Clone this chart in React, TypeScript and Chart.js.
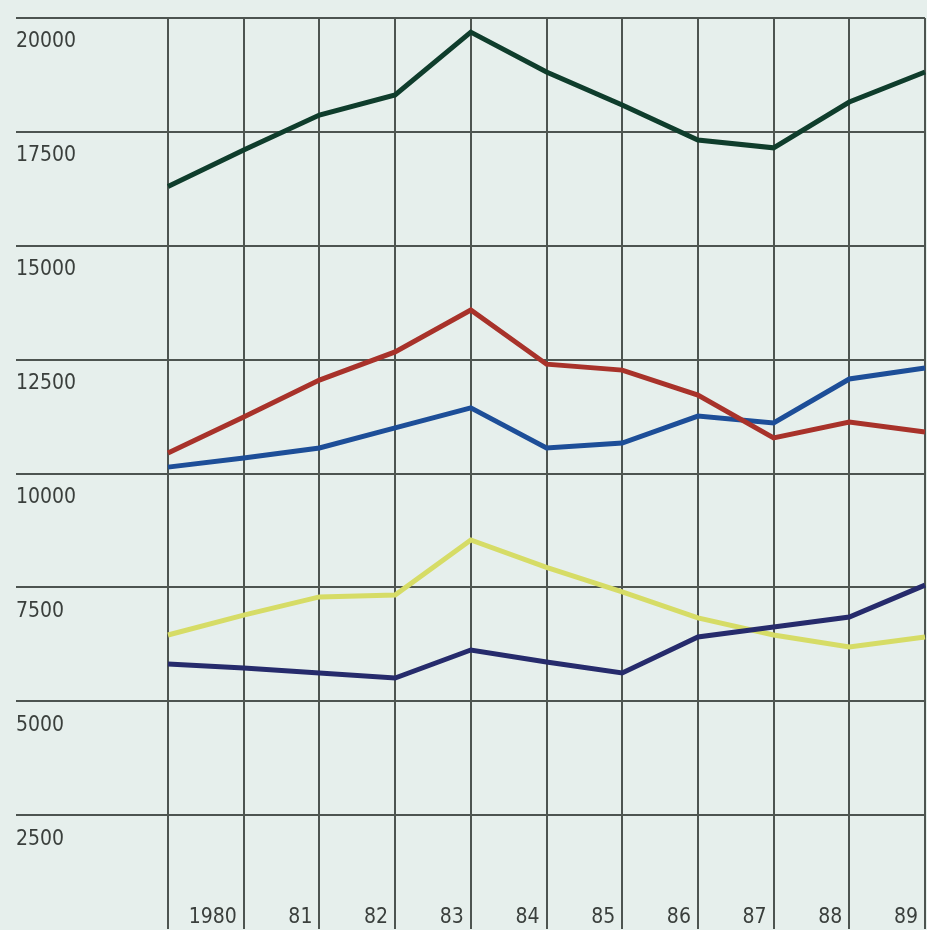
import React, { useEffect, useRef } from "react";
import { Chart, registerables } from "chart.js";

Chart.register(...registerables);

const years = ["", "1980", "81", "82", "83", "84", "85", "86", "87", "88", "89"];
const yTicks = [2500, 5000, 7500, 10000, 12500, 15000, 17500, 20000];

const greenSeries = [16300, 17100, 17870, 18310, 19690, 18815, 18090, 17320, 17150, 18155, 18815];
const redSeries = [10450, 11240, 12050, 12670, 13590, 12400, 12270, 11720, 10780, 11130, 10910];
const blueSeries = [10140, 10340, 10560, 11000, 11440, 10560, 10670, 11260, 11110, 12075, 12315];
const yellowSeries = [6455, 6890, 7290, 7330, 8540, 7940, 7400, 6830, 6455, 6190, 6410];
const navySeries = [5820, 5730, 5620, 5510, 6125, 5860, 5620, 6410, 6630, 6850, 7550];

const FONT = "'Liberation Sans Narrow', 'DejaVu Sans Condensed', 'Roboto Condensed', sans-serif";
const GRID = "#4d5450";

export default function App() {
  const ref = useRef<HTMLCanvasElement | null>(null);

  useEffect(() => {
    if (!ref.current) return;
    const mk = (data: number[], color: string, width: number) => ({
      data,
      borderColor: color,
      backgroundColor: color,
      borderWidth: width,
      pointRadius: 0,
      tension: 0,
      fill: false,
    });
    const chart = new Chart(ref.current, {
      type: "line",
      data: {
        labels: years,
        datasets: [
          mk(greenSeries, "#0f3d2c", 5),
          mk(redSeries, "#a8322a", 5),
          mk(blueSeries, "#1d4e98", 5),
          mk(navySeries, "#262b6c", 5),
          mk(yellowSeries, "#d6dc66", 5),
        ],
      },
      options: {
        animation: false,
        responsive: false,
        maintainAspectRatio: false,
        layout: { padding: { left: 16, top: 18, right: 2, bottom: 1 } },
        plugins: { legend: { display: false }, tooltip: { enabled: false } },
        scales: {
          x: {
            type: "category",
            offset: false,
            border: { display: false },
            grid: { color: GRID, lineWidth: 2, drawTicks: false },
            ticks: {
              mirror: true,
              align: "end",
              labelOffset: -7,
              padding: 1,
              maxRotation: 0,
              autoSkip: false,
              color: "#3a3f3c",
              font: { family: FONT, size: 21, lineHeight: 1 },
            },
            afterFit: (s: any) => {
              s.height = 0;
              s.paddingLeft = 0;
              s.paddingRight = 0;
            },
          },
          y: {
            min: 0,
            max: 20000,
            afterBuildTicks: (s: any) => {
              s.ticks = [0, ...yTicks].map((v) => ({ value: v }));
            },
            border: { display: false },
            grid: {
              color: (c: any) => (c.tick && c.tick.value === 0 ? "rgba(0,0,0,0)" : GRID),
              lineWidth: 2,
              tickLength: 152,
            },
            ticks: {
              crossAlign: "far",
              labelOffset: 24,
              color: "#3a3f3c",
              font: { family: FONT, size: 21, lineHeight: 1 },
              callback: (v: any) => (v === 0 ? "" : String(v)),
            },
            afterFit: (s: any) => {
              s.width = 152;
              s.paddingTop = 0;
              s.paddingBottom = 0;
            },
          },
        },
      },
    });
    return () => chart.destroy();
  }, []);

  return (
    <div style={{ position: "fixed", left: 0, top: 0, width: 927, height: 930, background: "#e6efec" }}>
      <canvas ref={ref} width={927} height={930} style={{ display: "block", width: 927, height: 930 }} />
    </div>
  );
}
